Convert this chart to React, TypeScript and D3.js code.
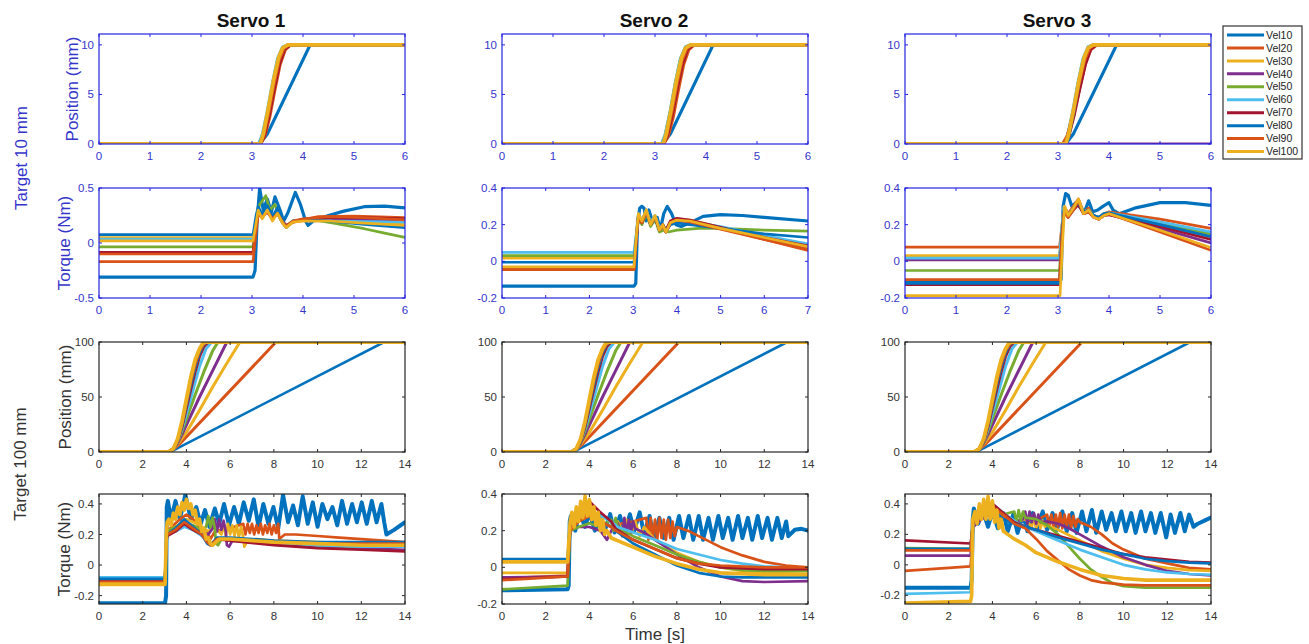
import React from 'react';
import * as d3 from 'd3';

const COLORS = ['#0072BD', '#D95319', '#EDB120', '#7E2F8E', '#77AC30', '#4DBEEE', '#A2142F', '#0072BD', '#D95319', '#EDB120'];
const LABELS = ['Vel10', 'Vel20', 'Vel30', 'Vel40', 'Vel50', 'Vel60', 'Vel70', 'Vel80', 'Vel90', 'Vel100'];
const SERVO_TITLES = ['Servo 1', 'Servo 2', 'Servo 3'];
const ROW_LABELS = ['Position (mm)', 'Torque (Nm)', 'Position (mm)', 'Torque (Nm)'];
const GROUP_LABELS = ['Target 10 mm', 'Target 100 mm'];
const X_LABEL = 'Time [s]';

const X_TICKS_6 = [0, 1, 2, 3, 4, 5, 6];
const X_TICKS_7 = [0, 1, 2, 3, 4, 5, 6, 7];
const X_TICKS_14 = [0, 2, 4, 6, 8, 10, 12, 14];
const Y_TICKS_POS10 = [0, 5, 10];
const Y_TICKS_POS100 = [0, 50, 100];
const Y_TICKS_TQ_A = [-0.5, 0, 0.5];
const Y_TICKS_TQ_B = [-0.2, 0, 0.2, 0.4];

// ---------- Row 1: position, target 10 mm (flat [t, y, t, y, ...]) ----------
const pos10S1: number[][] = [
  [0, 0, 3.15, 0, 3.3, 1.0, 4.14, 10, 6, 10],
  [0, 0, 3.17, 0, 3.25, 0.8, 3.35, 2.8, 3.45, 5.5, 3.55, 8.0, 3.65, 9.5, 3.76, 10, 6, 10],
  [0, 0, 3.15, 0, 3.22, 0.8, 3.32, 3.0, 3.42, 5.8, 3.52, 8.3, 3.62, 9.7, 3.72, 10, 6, 10],
  [0, 0, 3.14, 0, 3.21, 0.8, 3.31, 3.1, 3.41, 5.9, 3.51, 8.4, 3.61, 9.7, 3.71, 10, 6, 10],
  [0, 0, 3.14, 0, 3.21, 0.9, 3.31, 3.2, 3.41, 6.0, 3.51, 8.5, 3.61, 9.75, 3.71, 10, 6, 10],
  [0, 0, 3.13, 0, 3.2, 0.9, 3.3, 3.3, 3.4, 6.1, 3.5, 8.6, 3.6, 9.8, 3.7, 10, 6, 10],
  [0, 0, 3.16, 0, 3.24, 0.8, 3.34, 3.0, 3.44, 5.7, 3.54, 8.1, 3.64, 9.6, 3.75, 10, 6, 10],
  [0, 0, 3.15, 0, 3.22, 0.9, 3.32, 3.3, 3.42, 6.1, 3.52, 8.5, 3.61, 9.7, 3.71, 10, 6, 10],
  [0, 0, 3.16, 0, 3.23, 0.9, 3.33, 3.2, 3.43, 6.0, 3.53, 8.4, 3.63, 9.7, 3.73, 10, 6, 10],
  [0, 0, 3.16, 0, 3.22, 1.0, 3.32, 3.6, 3.42, 6.4, 3.52, 8.7, 3.6, 9.7, 3.7, 10, 6, 10],
];
const pos10S2: number[][] = [
  [0, 0, 3.15, 0, 3.3, 1.0, 4.14, 10, 6, 10],
  [0, 0, 3.17, 0, 3.26, 0.8, 3.36, 2.8, 3.46, 5.5, 3.56, 8.0, 3.66, 9.5, 3.77, 10, 6, 10],
  [0, 0, 3.15, 0, 3.22, 0.8, 3.32, 3.0, 3.42, 5.8, 3.52, 8.3, 3.62, 9.7, 3.72, 10, 6, 10],
  [0, 0, 3.14, 0, 3.21, 0.8, 3.31, 3.1, 3.41, 5.9, 3.51, 8.4, 3.61, 9.7, 3.71, 10, 6, 10],
  [0, 0, 3.13, 0, 3.2, 0.9, 3.3, 3.3, 3.4, 6.2, 3.5, 8.6, 3.6, 9.8, 3.69, 10, 6, 10],
  [0, 0, 3.13, 0, 3.2, 0.9, 3.3, 3.3, 3.4, 6.1, 3.5, 8.6, 3.6, 9.8, 3.7, 10, 6, 10],
  [0, 0, 3.16, 0, 3.24, 0.8, 3.34, 3.0, 3.44, 5.7, 3.54, 8.1, 3.64, 9.6, 3.75, 10, 6, 10],
  [0, 0, 3.15, 0, 3.22, 0.9, 3.32, 3.3, 3.42, 6.1, 3.52, 8.5, 3.61, 9.7, 3.71, 10, 6, 10],
  [0, 0, 3.16, 0, 3.23, 0.9, 3.33, 3.2, 3.43, 6.0, 3.53, 8.4, 3.63, 9.7, 3.73, 10, 6, 10],
  [0, 0, 3.16, 0, 3.22, 1.0, 3.32, 3.6, 3.42, 6.4, 3.52, 8.7, 3.6, 9.7, 3.7, 10, 6, 10],
];
const pos10S3: number[][] = [
  [0, 0, 3.15, 0, 3.3, 1.0, 4.15, 10, 6, 10],
  [0, 0, 3.09, 0, 3.18, 0.8, 3.3, 2.8, 3.42, 5.5, 3.53, 8.0, 3.64, 9.5, 3.76, 10, 6, 10],
  [0, 0, 3.14, 0, 3.21, 0.8, 3.31, 3.0, 3.41, 5.8, 3.51, 8.3, 3.61, 9.7, 3.71, 10, 6, 10],
  [0, 0, 6, 0],
  [0, 0, 3.13, 0, 3.2, 0.9, 3.3, 3.3, 3.4, 6.2, 3.5, 8.6, 3.6, 9.8, 3.69, 10, 6, 10],
  [0, 0, 3.12, 0, 3.19, 0.9, 3.29, 3.3, 3.39, 6.1, 3.49, 8.6, 3.59, 9.8, 3.69, 10, 6, 10],
  [0, 0, 3.12, 0, 3.21, 0.8, 3.32, 3.0, 3.43, 5.7, 3.54, 8.1, 3.64, 9.6, 3.75, 10, 6, 10],
  [0, 0, 3.14, 0, 3.21, 0.9, 3.31, 3.3, 3.41, 6.1, 3.51, 8.5, 3.6, 9.7, 3.7, 10, 6, 10],
  [0, 0, 3.11, 0, 3.19, 0.9, 3.3, 3.2, 3.41, 6.0, 3.52, 8.4, 3.62, 9.7, 3.72, 10, 6, 10],
  [0, 0, 3.15, 0, 3.21, 1.0, 3.31, 3.6, 3.41, 6.4, 3.51, 8.7, 3.59, 9.7, 3.69, 10, 6, 10],
];

// ---------- Row 2: torque, target 10 mm ----------
const tq10S1: number[][] = [
  [0, -0.31, 3.02, -0.31, 3.06, -0.25, 3.1, 0.2, 3.15, 0.5, 3.22, 0.3, 3.3, 0.4, 3.38, 0.28, 3.45, 0.42, 3.55, 0.3, 3.62, 0.2, 3.7, 0.27, 3.85, 0.46, 3.95, 0.35, 4.05, 0.2, 4.1, 0.16, 4.2, 0.2, 4.5, 0.25, 4.8, 0.29, 5.2, 0.33, 5.6, 0.335, 6, 0.32],
  [0, -0.17, 3.02, -0.17, 3.08, 0.1, 3.12, 0.27, 3.2, 0.25, 3.3, 0.3, 3.4, 0.24, 3.5, 0.29, 3.6, 0.2, 3.67, 0.15, 3.8, 0.19, 4.0, 0.21, 4.3, 0.24, 5.0, 0.245, 6, 0.23],
  [0, 0.05, 3.02, 0.05, 3.08, 0.2, 3.12, 0.3, 3.2, 0.23, 3.3, 0.31, 3.4, 0.22, 3.5, 0.28, 3.6, 0.19, 3.67, 0.14, 3.8, 0.19, 4.0, 0.2, 4.5, 0.2, 5.2, 0.19, 6, 0.17],
  [0, -0.09, 3.02, -0.09, 3.08, 0.15, 3.12, 0.28, 3.2, 0.24, 3.3, 0.3, 3.4, 0.22, 3.5, 0.27, 3.6, 0.18, 3.67, 0.15, 3.8, 0.2, 4.0, 0.21, 4.6, 0.22, 5.3, 0.21, 6, 0.2],
  [0, -0.035, 3.02, -0.035, 3.08, 0.2, 3.15, 0.35, 3.27, 0.43, 3.35, 0.3, 3.45, 0.35, 3.55, 0.22, 3.65, 0.15, 3.8, 0.2, 4.1, 0.22, 4.6, 0.18, 5.2, 0.13, 5.6, 0.09, 6, 0.05],
  [0, 0.035, 3.02, 0.035, 3.08, 0.2, 3.12, 0.32, 3.2, 0.25, 3.3, 0.33, 3.4, 0.23, 3.5, 0.3, 3.6, 0.2, 3.67, 0.14, 3.8, 0.2, 4.0, 0.21, 4.6, 0.2, 5.3, 0.195, 6, 0.19],
  [0, -0.085, 3.02, -0.085, 3.08, 0.15, 3.12, 0.27, 3.2, 0.24, 3.3, 0.28, 3.4, 0.22, 3.5, 0.27, 3.6, 0.2, 3.67, 0.16, 3.8, 0.19, 4.0, 0.21, 4.5, 0.23, 5.2, 0.23, 6, 0.22],
  [0, 0.076, 3.02, 0.076, 3.08, 0.25, 3.12, 0.33, 3.2, 0.26, 3.3, 0.34, 3.4, 0.24, 3.5, 0.32, 3.6, 0.2, 3.67, 0.14, 3.8, 0.2, 4.0, 0.21, 4.5, 0.2, 5.2, 0.17, 6, 0.14],
  [0, -0.1, 3.02, -0.1, 3.08, 0.12, 3.12, 0.26, 3.2, 0.23, 3.3, 0.29, 3.4, 0.22, 3.5, 0.27, 3.6, 0.19, 3.67, 0.15, 3.8, 0.2, 4.0, 0.22, 4.5, 0.24, 5.2, 0.23, 6, 0.21],
  [0, 0.02, 3.02, 0.02, 3.08, 0.18, 3.12, 0.3, 3.2, 0.22, 3.3, 0.3, 3.4, 0.2, 3.5, 0.27, 3.6, 0.18, 3.67, 0.14, 3.8, 0.19, 4.0, 0.2, 4.5, 0.2, 5.2, 0.18, 6, 0.16],
];
const tq10S2: number[][] = [
  [0, -0.135, 3.02, -0.135, 3.06, -0.12, 3.1, 0.2, 3.15, 0.29, 3.2, 0.3, 3.25, 0.29, 3.3, 0.22, 3.36, 0.28, 3.45, 0.21, 3.55, 0.24, 3.62, 0.17, 3.7, 0.26, 3.78, 0.3, 3.88, 0.26, 3.98, 0.2, 4.1, 0.19, 4.3, 0.21, 4.6, 0.245, 5, 0.255, 5.5, 0.25, 6, 0.24, 7, 0.22],
  [0, -0.042, 3.02, -0.042, 3.08, 0.15, 3.12, 0.25, 3.2, 0.21, 3.3, 0.28, 3.4, 0.2, 3.5, 0.24, 3.6, 0.17, 3.68, 0.2, 3.75, 0.16, 3.85, 0.21, 4.0, 0.23, 4.3, 0.22, 5, 0.18, 6, 0.12, 7, 0.06],
  [0, 0.018, 3.02, 0.018, 3.08, 0.16, 3.12, 0.26, 3.2, 0.22, 3.3, 0.28, 3.4, 0.21, 3.5, 0.25, 3.6, 0.18, 3.68, 0.2, 3.75, 0.17, 3.85, 0.21, 4.0, 0.23, 4.3, 0.225, 5, 0.185, 6, 0.135, 7, 0.085],
  [0, -0.04, 3.02, -0.04, 3.08, 0.14, 3.12, 0.24, 3.2, 0.21, 3.3, 0.27, 3.4, 0.2, 3.5, 0.24, 3.6, 0.17, 3.68, 0.19, 3.75, 0.16, 3.85, 0.2, 4.0, 0.225, 4.3, 0.22, 5, 0.18, 6, 0.125, 7, 0.075],
  [0, 0.031, 3.02, 0.031, 3.08, 0.15, 3.12, 0.24, 3.2, 0.2, 3.3, 0.26, 3.4, 0.19, 3.5, 0.23, 3.6, 0.16, 3.7, 0.17, 3.8, 0.16, 4.0, 0.17, 4.5, 0.18, 5, 0.18, 6, 0.17, 7, 0.165],
  [0, 0.049, 3.02, 0.049, 3.08, 0.17, 3.12, 0.26, 3.2, 0.22, 3.3, 0.28, 3.4, 0.21, 3.5, 0.25, 3.6, 0.18, 3.68, 0.2, 3.75, 0.17, 3.85, 0.21, 4.0, 0.22, 4.3, 0.215, 5, 0.19, 6, 0.14, 7, 0.095],
  [0, -0.035, 3.02, -0.035, 3.08, 0.14, 3.12, 0.25, 3.2, 0.21, 3.3, 0.27, 3.4, 0.2, 3.5, 0.24, 3.6, 0.17, 3.68, 0.2, 3.75, 0.17, 3.85, 0.22, 4.0, 0.235, 4.3, 0.225, 5, 0.185, 6, 0.13, 7, 0.085],
  [0, -0.005, 3.02, -0.005, 3.08, 0.15, 3.12, 0.25, 3.2, 0.22, 3.3, 0.27, 3.4, 0.2, 3.5, 0.24, 3.6, 0.17, 3.68, 0.19, 3.75, 0.17, 3.85, 0.2, 4.0, 0.21, 4.3, 0.2, 5, 0.18, 6, 0.15, 7, 0.13],
  [0, -0.045, 3.02, -0.045, 3.08, 0.14, 3.12, 0.24, 3.2, 0.21, 3.3, 0.27, 3.4, 0.2, 3.5, 0.24, 3.6, 0.17, 3.68, 0.19, 3.75, 0.16, 3.85, 0.21, 4.0, 0.225, 4.3, 0.215, 5, 0.175, 6, 0.12, 7, 0.065],
  [0, -0.03, 3.02, -0.03, 3.08, 0.16, 3.12, 0.26, 3.2, 0.22, 3.3, 0.28, 3.4, 0.2, 3.5, 0.25, 3.6, 0.17, 3.68, 0.2, 3.75, 0.16, 3.85, 0.21, 4.0, 0.225, 4.3, 0.22, 5, 0.18, 6, 0.13, 7, 0.08],
];
const tq10S3: number[][] = [
  [0, -0.115, 3.02, -0.115, 3.06, -0.1, 3.1, 0.3, 3.15, 0.37, 3.2, 0.36, 3.27, 0.3, 3.35, 0.32, 3.45, 0.29, 3.52, 0.27, 3.6, 0.33, 3.68, 0.27, 3.78, 0.28, 3.88, 0.3, 4.0, 0.32, 4.08, 0.28, 4.2, 0.26, 4.5, 0.29, 5, 0.32, 5.5, 0.32, 6, 0.305],
  [0, 0.078, 3.03, 0.078, 3.08, 0.2, 3.12, 0.3, 3.2, 0.26, 3.3, 0.3, 3.4, 0.34, 3.5, 0.27, 3.6, 0.29, 3.7, 0.25, 3.8, 0.24, 3.9, 0.26, 4.0, 0.27, 5, 0.23, 6, 0.18],
  [0, 0.031, 3.03, 0.031, 3.08, 0.2, 3.12, 0.3, 3.2, 0.25, 3.3, 0.29, 3.4, 0.33, 3.5, 0.27, 3.6, 0.28, 3.7, 0.25, 3.8, 0.24, 3.9, 0.26, 4.0, 0.265, 5, 0.2, 6, 0.135],
  [0, 0.008, 3.03, 0.008, 3.08, 0.18, 3.12, 0.28, 3.2, 0.25, 3.3, 0.28, 3.4, 0.32, 3.5, 0.26, 3.6, 0.27, 3.7, 0.25, 3.8, 0.23, 3.9, 0.25, 4.0, 0.255, 5, 0.18, 6, 0.1],
  [0, -0.05, 3.03, -0.05, 3.08, 0.18, 3.12, 0.28, 3.2, 0.25, 3.3, 0.28, 3.4, 0.32, 3.5, 0.26, 3.6, 0.27, 3.7, 0.25, 3.8, 0.24, 3.9, 0.25, 4.0, 0.26, 5, 0.21, 6, 0.15],
  [0, 0.018, 3.03, 0.018, 3.08, 0.2, 3.12, 0.3, 3.2, 0.25, 3.3, 0.29, 3.4, 0.33, 3.5, 0.27, 3.6, 0.28, 3.7, 0.25, 3.8, 0.24, 3.9, 0.26, 4.0, 0.265, 5, 0.215, 6, 0.16],
  [0, -0.127, 3.03, -0.127, 3.08, 0.15, 3.12, 0.27, 3.2, 0.24, 3.3, 0.28, 3.4, 0.31, 3.5, 0.26, 3.6, 0.27, 3.7, 0.24, 3.8, 0.23, 3.9, 0.25, 4.0, 0.255, 5, 0.19, 6, 0.12],
  [0, -0.12, 3.03, -0.12, 3.08, 0.16, 3.12, 0.28, 3.2, 0.25, 3.3, 0.29, 3.4, 0.32, 3.5, 0.27, 3.6, 0.28, 3.7, 0.25, 3.8, 0.24, 3.9, 0.26, 4.0, 0.265, 5, 0.2, 6, 0.135],
  [0, -0.1, 3.03, -0.1, 3.08, 0.15, 3.12, 0.27, 3.2, 0.24, 3.3, 0.28, 3.4, 0.33, 3.5, 0.26, 3.6, 0.27, 3.7, 0.24, 3.8, 0.23, 3.9, 0.25, 4.0, 0.26, 5, 0.16, 6, 0.06],
  [0, -0.187, 3.04, -0.187, 3.09, 0.1, 3.13, 0.3, 3.2, 0.25, 3.3, 0.29, 3.4, 0.34, 3.5, 0.26, 3.6, 0.28, 3.7, 0.24, 3.8, 0.23, 3.9, 0.25, 4.0, 0.26, 5, 0.17, 6, 0.075],
];

// ---------- Row 3: position, target 100 mm (same profile shape on every servo) ----------
const pos100: number[][] = [
  [0, 0, 3.2, 0, 3.4, 1.5, 13.05, 100, 14, 100],
  [0, 0, 3.17, 0, 3.4, 2.5, 3.7, 7.5, 8.1, 100, 14, 100],
  [0, 0, 3.17, 0, 3.4, 3, 3.6, 7, 4.0, 18, 4.6, 38, 5.2, 59, 5.8, 79, 6.45, 100, 14, 100],
  [0, 0, 3.17, 0, 3.4, 3, 3.6, 8, 3.8, 16, 4.2, 33, 4.6, 50, 5.0, 66, 5.4, 82, 5.85, 100, 14, 100],
  [0, 0, 3.17, 0, 3.4, 3, 3.6, 9, 3.8, 19, 4.0, 30, 4.4, 52, 4.8, 73, 5.2, 92, 5.45, 100, 14, 100],
  [0, 0, 3.17, 0, 3.4, 3, 3.6, 10, 3.8, 21, 4.0, 35, 4.3, 56, 4.6, 78, 4.9, 94, 5.15, 100, 14, 100],
  [0, 0, 3.17, 0, 3.4, 3, 3.6, 10, 3.8, 23, 4.0, 40, 4.2, 57, 4.4, 73, 4.6, 87, 4.8, 96, 5.0, 100, 14, 100],
  [0, 0, 3.17, 0, 3.4, 3, 3.6, 11, 3.8, 25, 4.0, 43, 4.2, 61, 4.4, 77, 4.6, 90, 4.8, 98, 4.97, 100, 14, 100],
  [0, 0, 3.17, 0, 3.4, 3, 3.6, 11, 3.8, 26, 4.0, 45, 4.2, 64, 4.4, 80, 4.6, 92, 4.8, 98.5, 4.95, 100, 14, 100],
  [0, 0, 3.17, 0, 3.4, 3, 3.6, 12, 3.8, 28, 4.0, 48, 4.2, 68, 4.4, 84, 4.6, 94, 4.75, 99, 4.9, 100, 14, 100],
];

// ---------- Row 4: torque, target 100 mm ----------
const tq100S1: number[][] = [
  [0, -0.25, 3.02, -0.25, 3.07, -0.2, 3.1, 0.38, 3.15, 0.42, 3.3, 0.3, 3.5, 0.42, 3.7, 0.3, 3.95, 0.46, 4.2, 0.3, 4.45, 0.38, 4.65, 0.27, 4.85, 0.36, 5.05, 0.25, 5.3, 0.37, 5.5, 0.27, 5.72, 0.4, 5.95, 0.26, 6.18, 0.38, 6.4, 0.27, 6.62, 0.41, 6.85, 0.29, 7.08, 0.43, 7.3, 0.25, 7.52, 0.4, 7.75, 0.27, 7.98, 0.38, 8.2, 0.24, 8.42, 0.46, 8.65, 0.28, 8.88, 0.39, 9.1, 0.26, 9.32, 0.45, 9.55, 0.27, 9.78, 0.41, 10.0, 0.25, 10.22, 0.4, 10.45, 0.3, 10.68, 0.38, 10.9, 0.26, 11.12, 0.42, 11.35, 0.27, 11.58, 0.4, 11.8, 0.28, 12.02, 0.41, 12.25, 0.27, 12.48, 0.42, 12.7, 0.28, 12.92, 0.4, 13.05, 0.28, 13.15, 0.2, 13.5, 0.23, 14, 0.28],
  [0, -0.1, 3.02, -0.1, 3.08, 0.15, 3.12, 0.22, 3.4, 0.26, 3.7, 0.3, 4.0, 0.33, 4.3, 0.3, 4.6, 0.25, 5.0, 0.2, 5.1, 0.17, 5.3, 0.22, 6.0, 0.24, 6.6, 0.27, 6.7, 0.2, 6.8, 0.27, 6.9, 0.21, 7.0, 0.27, 7.1, 0.2, 7.2, 0.26, 7.3, 0.21, 7.4, 0.27, 7.5, 0.2, 7.6, 0.26, 7.7, 0.21, 7.8, 0.27, 7.9, 0.2, 8.0, 0.26, 8.1, 0.21, 8.2, 0.27, 8.25, 0.17, 8.5, 0.2, 9, 0.2, 10, 0.19, 11, 0.18, 12, 0.17, 13, 0.16, 14, 0.15],
  [0, -0.13, 3.02, -0.13, 3.08, 0.15, 3.12, 0.22, 3.5, 0.25, 4.0, 0.3, 4.5, 0.27, 5.0, 0.22, 5.3, 0.25, 5.6, 0.2, 5.7, 0.27, 5.8, 0.19, 5.9, 0.27, 6.0, 0.2, 6.1, 0.26, 6.2, 0.19, 6.3, 0.26, 6.4, 0.18, 6.5, 0.25, 6.6, 0.18, 6.65, 0.12, 6.8, 0.16, 7.2, 0.17, 8, 0.16, 10, 0.15, 12, 0.14, 14, 0.13],
  [0, -0.1, 3.02, -0.1, 3.08, 0.15, 3.12, 0.2, 3.5, 0.24, 3.9, 0.27, 4.3, 0.25, 4.7, 0.22, 5.0, 0.2, 5.2, 0.24, 5.3, 0.3, 5.4, 0.22, 5.5, 0.3, 5.6, 0.23, 5.7, 0.29, 5.8, 0.22, 5.85, 0.13, 5.95, 0.12, 6.1, 0.16, 7, 0.15, 8, 0.14, 10, 0.12, 12, 0.11, 14, 0.1],
  [0, -0.1, 3.02, -0.1, 3.08, 0.15, 3.12, 0.22, 3.5, 0.25, 3.9, 0.28, 4.3, 0.26, 4.7, 0.23, 4.9, 0.25, 5.0, 0.32, 5.1, 0.25, 5.2, 0.31, 5.3, 0.24, 5.35, 0.14, 5.45, 0.13, 5.6, 0.17, 6, 0.17, 8, 0.15, 10, 0.13, 12, 0.12, 14, 0.12],
  [0, -0.08, 3.02, -0.08, 3.08, 0.15, 3.12, 0.2, 3.5, 0.22, 3.9, 0.25, 4.3, 0.23, 4.6, 0.2, 4.9, 0.17, 5.05, 0.14, 5.2, 0.13, 5.5, 0.17, 6, 0.17, 8, 0.15, 10, 0.13, 12, 0.12, 14, 0.12],
  [0, -0.1, 3.02, -0.1, 3.08, 0.15, 3.12, 0.19, 3.5, 0.22, 3.9, 0.27, 4.3, 0.23, 4.7, 0.2, 5.0, 0.14, 5.15, 0.13, 5.4, 0.17, 6, 0.16, 8, 0.13, 10, 0.11, 12, 0.1, 14, 0.09],
  [0, -0.09, 3.02, -0.09, 3.08, 0.15, 3.12, 0.2, 3.5, 0.24, 3.9, 0.3, 4.3, 0.25, 4.7, 0.2, 4.95, 0.14, 5.1, 0.13, 5.4, 0.18, 6, 0.18, 8, 0.16, 10, 0.15, 12, 0.15, 14, 0.15],
  [0, -0.11, 3.02, -0.11, 3.08, 0.15, 3.12, 0.2, 3.5, 0.23, 3.9, 0.28, 4.3, 0.24, 4.7, 0.2, 4.95, 0.15, 5.1, 0.13, 5.4, 0.17, 6, 0.17, 8, 0.15, 10, 0.14, 12, 0.14, 14, 0.14],
  [0, -0.125, 3.02, -0.125, 3.08, 0.2, 3.12, 0.28, 3.2, 0.3, 3.3, 0.26, 3.4, 0.34, 3.5, 0.3, 3.6, 0.38, 3.7, 0.33, 3.8, 0.41, 3.9, 0.36, 4.0, 0.43, 4.1, 0.37, 4.2, 0.4, 4.3, 0.33, 4.4, 0.36, 4.5, 0.27, 4.6, 0.3, 4.7, 0.22, 4.8, 0.24, 4.9, 0.17, 5.0, 0.18, 5.1, 0.14, 5.2, 0.13, 5.5, 0.17, 6, 0.17, 8, 0.15, 10, 0.14, 12, 0.13, 14, 0.13],
];
const tq100S2: number[][] = [
  [0, -0.125, 3.0, -0.12, 3.05, -0.1, 3.1, 0.25, 3.15, 0.28, 3.35, 0.2, 3.55, 0.3, 3.8, 0.22, 4.0, 0.3, 4.25, 0.2, 4.5, 0.28, 4.7, 0.2, 4.95, 0.29, 5.15, 0.19, 5.4, 0.28, 5.6, 0.18, 5.85, 0.29, 6.05, 0.2, 6.3, 0.3, 6.5, 0.18, 6.75, 0.28, 6.95, 0.16, 7.2, 0.27, 7.4, 0.16, 7.65, 0.27, 7.85, 0.15, 8.1, 0.28, 8.3, 0.16, 8.55, 0.28, 8.75, 0.15, 9.0, 0.28, 9.2, 0.15, 9.45, 0.27, 9.65, 0.15, 9.9, 0.28, 10.1, 0.16, 10.35, 0.27, 10.55, 0.15, 10.8, 0.28, 11.0, 0.16, 11.25, 0.27, 11.45, 0.15, 11.7, 0.28, 11.9, 0.16, 12.15, 0.27, 12.35, 0.15, 12.6, 0.27, 12.8, 0.16, 13.0, 0.25, 13.1, 0.17, 13.4, 0.205, 13.7, 0.21, 14, 0.2],
  [0, -0.06, 3.0, -0.045, 3.06, 0.1, 3.12, 0.22, 3.5, 0.25, 4.0, 0.28, 4.5, 0.25, 5.0, 0.22, 5.5, 0.24, 6.0, 0.25, 6.6, 0.27, 6.7, 0.15, 6.8, 0.27, 6.9, 0.16, 7.0, 0.26, 7.1, 0.15, 7.2, 0.27, 7.3, 0.16, 7.4, 0.26, 7.5, 0.15, 7.6, 0.26, 7.7, 0.16, 7.8, 0.25, 7.9, 0.17, 8.0, 0.22, 8.5, 0.2, 9, 0.17, 10, 0.11, 11, 0.065, 12, 0.03, 13, 0.01, 14, 0.0],
  [0, -0.03, 3.0, -0.03, 3.06, 0.1, 3.12, 0.22, 3.5, 0.27, 4.0, 0.3, 4.5, 0.26, 5, 0.22, 5.3, 0.25, 5.5, 0.2, 5.7, 0.26, 5.9, 0.18, 6.1, 0.25, 6.3, 0.17, 6.5, 0.22, 7, 0.15, 8, 0.08, 9, 0.03, 10, 0.0, 11, -0.02, 12, -0.03, 14, -0.035],
  [0, -0.055, 3.0, -0.05, 3.06, 0.1, 3.12, 0.2, 3.5, 0.22, 4.0, 0.22, 4.5, 0.2, 4.8, 0.15, 5.0, 0.2, 5.3, 0.24, 5.5, 0.17, 5.6, 0.27, 5.7, 0.18, 5.8, 0.26, 5.9, 0.19, 6.0, 0.25, 6.1, 0.21, 6.5, 0.19, 7, 0.15, 8, 0.07, 9, 0.0, 10, -0.05, 11, -0.075, 12, -0.08, 14, -0.075],
  [0, -0.12, 3.0, -0.1, 3.06, 0.05, 3.12, 0.2, 3.5, 0.22, 4.0, 0.24, 4.5, 0.22, 5.0, 0.26, 5.1, 0.2, 5.2, 0.27, 5.3, 0.22, 5.5, 0.2, 6, 0.17, 7, 0.12, 8, 0.07, 9, 0.03, 10, 0.0, 11, -0.015, 12, -0.02, 14, -0.02],
  [0, 0.04, 3.0, 0.045, 3.06, 0.15, 3.12, 0.25, 3.5, 0.27, 4.0, 0.3, 4.5, 0.28, 5.0, 0.25, 5.3, 0.22, 6, 0.19, 7, 0.15, 8, 0.1, 9, 0.07, 10, 0.04, 11, 0.02, 12, 0.005, 14, -0.005],
  [0, -0.065, 3.0, -0.05, 3.06, 0.1, 3.12, 0.22, 3.5, 0.3, 4.0, 0.36, 4.5, 0.3, 5.0, 0.25, 5.2, 0.21, 6, 0.15, 7, 0.1, 8, 0.05, 9, 0.02, 10, 0.0, 12, -0.01, 14, -0.01],
  [0, 0.045, 3.0, 0.045, 3.06, 0.15, 3.12, 0.26, 3.5, 0.28, 4.0, 0.3, 4.5, 0.25, 5.0, 0.22, 5.2, 0.2, 6, 0.13, 7, 0.07, 8, 0.01, 9, -0.03, 10, -0.05, 11, -0.055, 14, -0.055],
  [0, -0.07, 3.0, -0.05, 3.06, 0.1, 3.12, 0.2, 3.5, 0.25, 4.0, 0.3, 4.5, 0.25, 5.0, 0.22, 5.2, 0.2, 6, 0.15, 7, 0.1, 8, 0.05, 9, 0.02, 10, 0.01, 12, 0.0, 14, 0.0],
  [0, 0.03, 3.0, 0.03, 3.06, 0.15, 3.12, 0.25, 3.2, 0.3, 3.3, 0.22, 3.4, 0.33, 3.5, 0.25, 3.6, 0.36, 3.7, 0.27, 3.8, 0.39, 3.9, 0.28, 4.0, 0.37, 4.1, 0.26, 4.2, 0.33, 4.3, 0.23, 4.4, 0.3, 4.5, 0.2, 4.6, 0.26, 4.7, 0.18, 4.8, 0.2, 5.0, 0.16, 6, 0.11, 7, 0.06, 8, 0.02, 9, -0.01, 10, -0.03, 12, -0.04, 14, -0.04],
];
const tq100S3: number[][] = [
  [0, -0.15, 3.0, -0.15, 3.05, -0.1, 3.1, 0.3, 3.15, 0.37, 3.35, 0.27, 3.55, 0.36, 3.8, 0.25, 4.0, 0.35, 4.25, 0.24, 4.5, 0.34, 4.7, 0.22, 4.95, 0.33, 5.15, 0.21, 5.4, 0.33, 5.6, 0.22, 5.85, 0.34, 6.05, 0.24, 6.3, 0.35, 6.5, 0.23, 6.75, 0.34, 6.95, 0.23, 7.2, 0.35, 7.4, 0.22, 7.65, 0.34, 7.85, 0.21, 8.1, 0.35, 8.3, 0.22, 8.55, 0.36, 8.75, 0.21, 9.0, 0.35, 9.2, 0.23, 9.45, 0.34, 9.65, 0.22, 9.9, 0.35, 10.1, 0.22, 10.35, 0.34, 10.55, 0.21, 10.8, 0.35, 11.0, 0.22, 11.25, 0.34, 11.45, 0.21, 11.7, 0.34, 11.95, 0.18, 12.15, 0.33, 12.35, 0.21, 12.6, 0.34, 12.8, 0.22, 13.0, 0.33, 13.2, 0.25, 13.4, 0.27, 13.7, 0.29, 14, 0.31],
  [0, -0.04, 3.0, -0.01, 3.06, 0.1, 3.12, 0.25, 3.5, 0.3, 4.0, 0.35, 4.5, 0.32, 5.0, 0.28, 5.5, 0.3, 6.0, 0.29, 6.5, 0.33, 6.6, 0.25, 6.7, 0.33, 6.8, 0.24, 6.9, 0.33, 7.0, 0.25, 7.1, 0.34, 7.2, 0.24, 7.3, 0.33, 7.4, 0.25, 7.5, 0.33, 7.6, 0.24, 7.7, 0.32, 7.8, 0.25, 7.9, 0.3, 8.0, 0.28, 8.5, 0.25, 9, 0.2, 9.5, 0.14, 10, 0.1, 11, 0.04, 12, 0.01, 13, -0.02, 14, -0.03],
  [0, 0.1, 3.0, 0.1, 3.06, 0.2, 3.12, 0.3, 3.5, 0.33, 4.0, 0.38, 4.5, 0.33, 5.0, 0.28, 5.5, 0.3, 5.8, 0.25, 5.9, 0.31, 6.0, 0.24, 6.1, 0.3, 6.2, 0.24, 6.3, 0.29, 6.4, 0.25, 6.5, 0.26, 7, 0.23, 8, 0.16, 9, 0.09, 10, 0.04, 11, 0.0, 12, -0.02, 13, -0.035, 14, -0.04],
  [0, 0.06, 3.0, 0.06, 3.06, 0.15, 3.12, 0.25, 3.5, 0.3, 4.0, 0.34, 4.5, 0.3, 5.0, 0.28, 5.4, 0.3, 5.5, 0.35, 5.6, 0.27, 5.7, 0.35, 5.8, 0.28, 5.9, 0.34, 6.0, 0.27, 6.1, 0.33, 6.2, 0.28, 6.5, 0.285, 7, 0.27, 7.5, 0.24, 8, 0.2, 9, 0.12, 10, 0.05, 11, 0.0, 12, -0.04, 13, -0.06, 14, -0.07],
  [0, 0.11, 3.0, 0.105, 3.06, 0.2, 3.12, 0.3, 3.5, 0.33, 4.0, 0.37, 4.5, 0.33, 5.0, 0.35, 5.1, 0.28, 5.2, 0.36, 5.3, 0.29, 5.4, 0.35, 5.5, 0.31, 6, 0.3, 6.5, 0.26, 7, 0.2, 7.5, 0.12, 8, 0.04, 8.5, -0.03, 9, -0.08, 9.5, -0.12, 10, -0.14, 11, -0.15, 14, -0.15],
  [0, -0.19, 3.0, -0.18, 3.06, -0.1, 3.12, 0.3, 3.5, 0.35, 4.0, 0.4, 4.5, 0.34, 5.0, 0.29, 5.2, 0.27, 6, 0.22, 7, 0.16, 8, 0.1, 9, 0.05, 10, 0.0, 11, -0.03, 12, -0.05, 13, -0.06, 14, -0.065],
  [0, 0.16, 3.0, 0.14, 3.06, 0.2, 3.12, 0.3, 3.5, 0.33, 4.0, 0.4, 4.5, 0.34, 5.0, 0.28, 5.5, 0.25, 6, 0.23, 7, 0.19, 8, 0.15, 9, 0.11, 10, 0.07, 11, 0.05, 12, 0.035, 13, 0.02, 14, 0.015],
  [0, 0.105, 3.0, 0.105, 3.06, 0.2, 3.12, 0.3, 3.5, 0.32, 4.0, 0.36, 4.5, 0.3, 5.0, 0.27, 5.5, 0.25, 6, 0.23, 7, 0.18, 8, 0.14, 9, 0.1, 10, 0.07, 11, 0.04, 12, 0.025, 13, 0.015, 14, 0.01],
  [0, 0.095, 3.0, 0.095, 3.06, 0.2, 3.12, 0.28, 3.5, 0.32, 4.0, 0.38, 4.5, 0.33, 5.0, 0.27, 5.5, 0.24, 6, 0.17, 6.5, 0.09, 7, 0.03, 7.5, -0.03, 8, -0.07, 8.5, -0.1, 9, -0.115, 10, -0.13, 11, -0.135, 14, -0.135],
  [0, -0.25, 3.0, -0.24, 3.05, -0.2, 3.1, 0.3, 3.2, 0.35, 3.3, 0.27, 3.4, 0.4, 3.5, 0.3, 3.6, 0.43, 3.7, 0.3, 3.8, 0.45, 3.9, 0.3, 4.0, 0.42, 4.1, 0.28, 4.2, 0.36, 4.3, 0.24, 4.4, 0.3, 4.5, 0.22, 4.7, 0.2, 5, 0.17, 5.5, 0.13, 6, 0.08, 7, 0.02, 8, -0.03, 9, -0.07, 10, -0.09, 11, -0.1, 14, -0.1],
];

// ---------- layout ----------
const COL_X = [99, 502, 905];
const ROW_Y = [34, 188, 342, 494];
const PW = 306;
const PH = 110;
const BLUE_BOX = '#2424e0';
const BLUE_TEXT = '#3535cc';
const DARK = '#262626';
const FONT = '"Liberation Sans", Arial, Helvetica, sans-serif';

type Panel = {
  row: number; col: number; data: number[][];
  xd: [number, number]; yd: [number, number];
  xt: number[]; yt: number[]; pos: boolean;
};

const panels: Panel[] = [
  { row: 0, col: 0, data: pos10S1, xd: [0, 6], yd: [0, 11.1], xt: X_TICKS_6, yt: Y_TICKS_POS10, pos: true },
  { row: 0, col: 1, data: pos10S2, xd: [0, 6], yd: [0, 11.1], xt: X_TICKS_6, yt: Y_TICKS_POS10, pos: true },
  { row: 0, col: 2, data: pos10S3, xd: [0, 6], yd: [0, 11.1], xt: X_TICKS_6, yt: Y_TICKS_POS10, pos: true },
  { row: 1, col: 0, data: tq10S1, xd: [0, 6], yd: [-0.5, 0.5], xt: X_TICKS_6, yt: Y_TICKS_TQ_A, pos: false },
  { row: 1, col: 1, data: tq10S2, xd: [0, 7], yd: [-0.2, 0.4], xt: X_TICKS_7, yt: Y_TICKS_TQ_B, pos: false },
  { row: 1, col: 2, data: tq10S3, xd: [0, 6], yd: [-0.2, 0.4], xt: X_TICKS_6, yt: Y_TICKS_TQ_B, pos: false },
  { row: 2, col: 0, data: pos100, xd: [0, 14], yd: [0, 100], xt: X_TICKS_14, yt: Y_TICKS_POS100, pos: true },
  { row: 2, col: 1, data: pos100, xd: [0, 14], yd: [0, 100], xt: X_TICKS_14, yt: Y_TICKS_POS100, pos: true },
  { row: 2, col: 2, data: pos100, xd: [0, 14], yd: [0, 100], xt: X_TICKS_14, yt: Y_TICKS_POS100, pos: true },
  { row: 3, col: 0, data: tq100S1, xd: [0, 14], yd: [-0.255, 0.465], xt: X_TICKS_14, yt: Y_TICKS_TQ_B, pos: false },
  { row: 3, col: 1, data: tq100S2, xd: [0, 14], yd: [-0.2, 0.4], xt: X_TICKS_14, yt: Y_TICKS_TQ_B, pos: false },
  { row: 3, col: 2, data: tq100S3, xd: [0, 14], yd: [-0.257, 0.465], xt: X_TICKS_14, yt: Y_TICKS_TQ_B, pos: false },
];

function pairs(flat: number[]): [number, number][] {
  const out: [number, number][] = [];
  for (let i = 0; i < flat.length; i += 2) out.push([flat[i], flat[i + 1]]);
  return out;
}

function PanelView({ p, idx }: { p: Panel; idx: number }) {
  const x0 = COL_X[p.col];
  const y0 = ROW_Y[p.row];
  const x = d3.scaleLinear().domain(p.xd).range([x0, x0 + PW]);
  const y = d3.scaleLinear().domain(p.yd).range([y0 + PH, y0]);
  const line = d3.line<[number, number]>().x(d => x(d[0])).y(d => y(d[1]));
  const blue = p.row < 2;
  const boxC = blue ? BLUE_BOX : DARK;
  const txtC = blue ? BLUE_TEXT : '#333333';
  const clipId = `clip-${idx}`;
  const tl = 3;
  return (
    <g>
      <defs>
        <clipPath id={clipId}>
          <rect x={x0} y={y0} width={PW} height={PH} />
        </clipPath>
      </defs>
      <g clipPath={`url(#${clipId})`}>
        {p.data.map((s, i) => {
          let w = p.pos ? 3.2 : 2.7;
          if (p.row === 2) w = i === 0 ? 2.6 : 3.0;
          if (i === 9 && p.pos) w = 3.8;
          if (i === 0 && !p.pos && p.row === 3) w = 4;
          if (i === 0 && !p.pos && p.row === 1) w = 3.2;
          if (i === 9 && !p.pos && p.row === 3) w = 3.6;
          return (
            <path key={i} d={line(pairs(s)) || ''} fill="none" stroke={COLORS[i]}
              strokeWidth={w} strokeLinejoin="round" strokeLinecap="round" />
          );
        })}
      </g>
      <rect x={x0} y={y0} width={PW} height={PH} fill="none" stroke={boxC} strokeWidth={1.2} />
      {p.xt.map(t => (
        <g key={`xt${t}`}>
          <line x1={x(t)} x2={x(t)} y1={y0 + PH} y2={y0 + PH - tl} stroke={boxC} strokeWidth={1} />
          <line x1={x(t)} x2={x(t)} y1={y0} y2={y0 + tl} stroke={boxC} strokeWidth={1} />
          <text x={x(t)} y={y0 + PH + 16} textAnchor="middle" fontSize={11.5} fill={txtC} fontFamily={FONT}>{String(t)}</text>
        </g>
      ))}
      {p.yt.map(t => (
        <g key={`yt${t}`}>
          <line x1={x0} x2={x0 + tl} y1={y(t)} y2={y(t)} stroke={boxC} strokeWidth={1} />
          <line x1={x0 + PW} x2={x0 + PW - tl} y1={y(t)} y2={y(t)} stroke={boxC} strokeWidth={1} />
          <text x={x0 - 5} y={y(t)} dy="0.35em" textAnchor="end" fontSize={11.5} fill={txtC} fontFamily={FONT}>{String(t)}</text>
        </g>
      ))}
    </g>
  );
}

export default function App() {
  const ylabX = [72, 64, 65, 64];
  return (
    <svg width={1309} height={644} style={{ position: 'absolute', left: 0, top: 0, background: '#fff' }}
      fontFamily={FONT}>
      <rect x={0} y={0} width={1309} height={644} fill="#fff" />
      {SERVO_TITLES.map((t, i) => (
        <text key={t} x={COL_X[i] + PW / 2 - 1} y={27} textAnchor="middle" fontSize={19} fontWeight="bold" fill="#111">{t}</text>
      ))}
      {panels.map((p, i) => <PanelView key={i} p={p} idx={i} />)}
      {ROW_LABELS.map((t, r) => (
        <text key={r} transform={`translate(${ylabX[r]},${ROW_Y[r] + PH / 2}) rotate(-90)`} textAnchor="middle"
          dy="0.35em" fontSize={17} fill={r < 2 ? BLUE_TEXT : '#333'}>{t}</text>
      ))}
      <text transform={`translate(21,158) rotate(-90)`} textAnchor="middle" dy="0.35em" fontSize={17} fill={BLUE_TEXT}>{GROUP_LABELS[0]}</text>
      <text transform={`translate(20,464) rotate(-90)`} textAnchor="middle" dy="0.35em" fontSize={17} fill="#333">{GROUP_LABELS[1]}</text>
      <text x={655} y={640} textAnchor="middle" fontSize={17} fill="#333">{X_LABEL}</text>
      <g>
        <rect x={1223} y={26} width={79} height={133} fill="#fff" stroke="#333" strokeWidth={1.2} />
        {LABELS.map((l, i) => {
          const yy = 35 + i * 12.95;
          return (
            <g key={l}>
              <line x1={1227} x2={1264} y1={yy} y2={yy} stroke={COLORS[i]} strokeWidth={3} />
              <text x={1266} y={yy} dy="0.35em" fontSize={10.5} fill="#222">{l}</text>
            </g>
          );
        })}
      </g>
    </svg>
  );
}
